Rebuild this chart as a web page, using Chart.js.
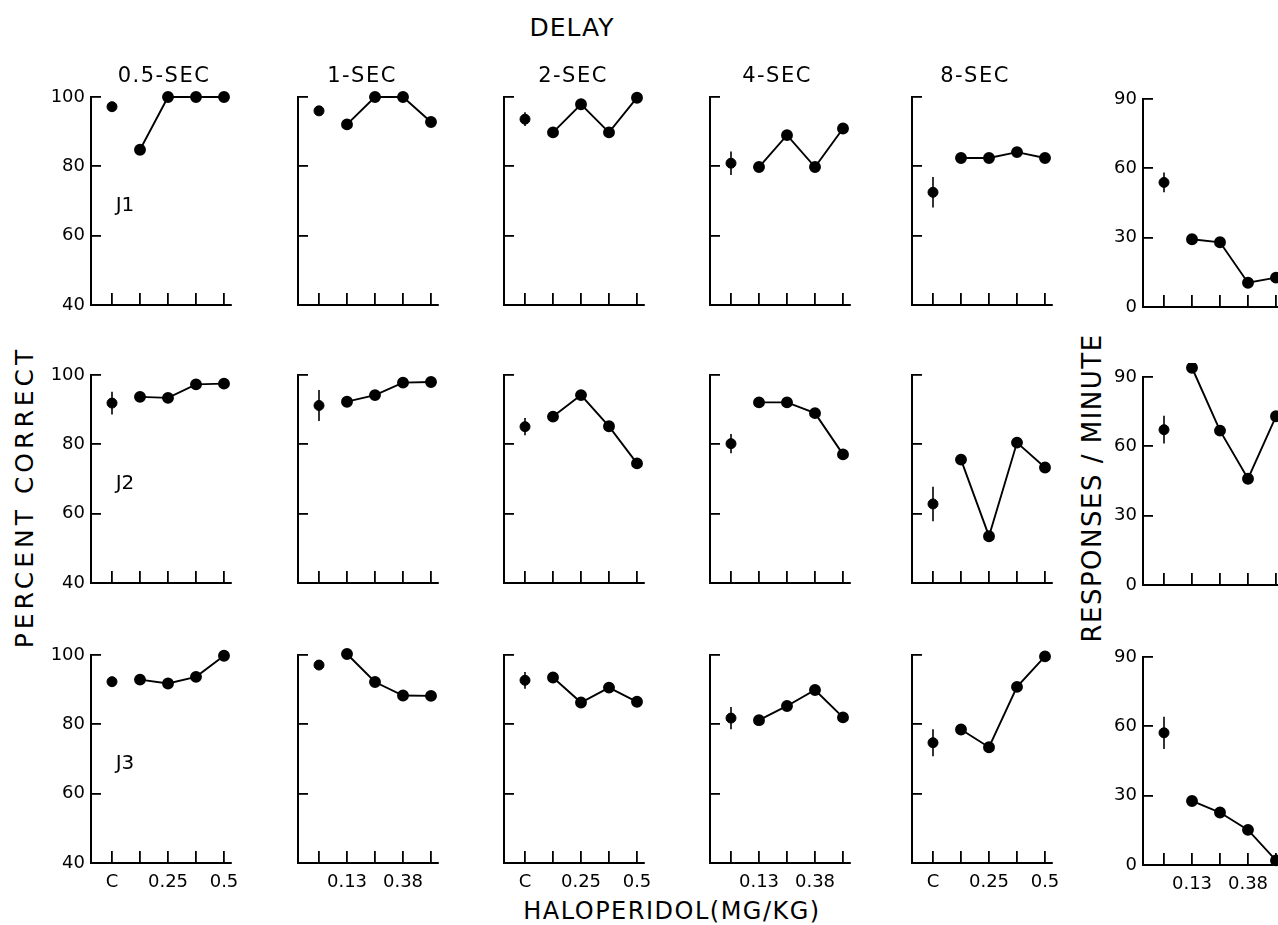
<!DOCTYPE html>
<html>
<head>
    <title>Haloperidol delay chart</title>
    <script src="https://cdn.jsdelivr.net/npm/chart.js"></script>
    <style>
        body { margin: 0; width: 1278px; height: 925px; overflow: hidden; background: #fff; position: relative;
               font-family: "DejaVu Sans", sans-serif; color: #000; }
        canvas { position: absolute; }
        .txt { position: absolute; white-space: nowrap; transform: translate(-50%, -50%); }
        .vert { position: absolute; white-space: nowrap; transform: translate(-50%, -50%) rotate(-90deg); }
    </style>
</head>
<body>
    <div class="txt" style="left:572px; top:27px; font-size:25px; letter-spacing:1px;">DELAY</div>
    <div class="txt" style="left:672px; top:911px; font-size:24px; letter-spacing:1.5px;">HALOPERIDOL(MG/KG)</div>
    <div class="vert" style="left:24px; top:497px; font-size:25px; letter-spacing:4px;">PERCENT CORRECT</div>
    <div class="vert" style="left:1092px; top:488px; font-size:26px; letter-spacing:1.5px;">RESPONSES / MINUTE</div>

    <script>
        // doses on the x axis (control first)
        const doses = ['C', '0.13', '0.25', '0.38', '0.5'];
        const delays = ['0.5-SEC', '1-SEC', '2-SEC', '4-SEC', '8-SEC'];
        const subjects = ['J1', 'J2', 'J3'];

        // percent correct, one row per delay: [C, 0.13, 0.25, 0.38, 0.5]
        const j1Correct = [
            [97.2, 84.8, 100, 100, 100],
            [96.0, 92.1, 100, 100, 92.8],
            [93.6, 89.8, 97.9, 89.8, 99.8],
            [80.9, 79.8, 89.0, 79.8, 90.9],
            [72.5, 82.4, 82.4, 84.1, 82.4]
        ];
        const j2Correct = [
            [91.9, 93.7, 93.4, 97.3, 97.5],
            [91.2, 92.3, 94.2, 97.8, 98.0],
            [85.1, 88.0, 94.2, 85.2, 74.5],
            [80.2, 92.1, 92.1, 89.0, 77.1],
            [62.8, 75.6, 53.5, 80.5, 73.3]
        ];
        const j3Correct = [
            [92.3, 92.9, 91.8, 93.7, 99.8],
            [97.1, 100.3, 92.2, 88.3, 88.2],
            [92.7, 93.5, 86.3, 90.6, 86.5],
            [81.8, 81.2, 85.3, 89.9, 82.0],
            [74.7, 78.5, 73.4, 90.8, 99.6]
        ];
        // error bar (+/-) on the control point, per delay
        const j1CorrectErr = [0, 0, 2.0, 3.4, 4.4];
        const j2CorrectErr = [3.3, 4.5, 2.5, 2.8, 5.0];
        const j3CorrectErr = [0, 0, 2.4, 3.2, 3.9];

        // responses per minute, one row per subject
        const responseRate = [
            [53.9, 29.3, 28.0, 10.5, 12.7],
            [67.2, 94.0, 66.8, 46.0, 73.0],
            [57.2, 27.7, 22.7, 15.2, 2.0]
        ];
        const responseRateErr = [4.3, 6.0, 7.0];

        const correctTicks = [40, 60, 80, 100];
        const rateTicks = [0, 30, 60, 90];
        const doseLabelsA = ['C', '', '0.25', '', '0.5'];
        const doseLabelsB = ['', '0.13', '', '0.38', ''];

        const correctRows = [j1Correct, j2Correct, j3Correct];
        const correctErrRows = [j1CorrectErr, j2CorrectErr, j3CorrectErr];

        // layout of the grid (pixels)
        const colLeft = [91, 298, 504, 710, 912, 1143];
        const colTitleX = [164, 362, 573, 777, 975];
        const rowTop = [97, 375, 655];
        const plotW = 140, plotH = 208;
        const padL = 44, padT = 14, padR = 14, padB = 34;

        const errorBars = {
            id: 'errorBars',
            afterDatasetsDraw(chart, args, opts) {
                if (!opts.err) return;
                const pt = chart.data.datasets[0].data[0];
                const ctx = chart.ctx;
                const y = chart.scales.y;
                const x = chart.scales.x.getPixelForValue(pt.x);
                ctx.save();
                ctx.strokeStyle = '#000';
                ctx.lineWidth = 1.6;
                ctx.beginPath();
                ctx.moveTo(x, y.getPixelForValue(pt.y + opts.err));
                ctx.lineTo(x, y.getPixelForValue(pt.y - opts.err));
                ctx.stroke();
                ctx.restore();
            }
        };

        // points slightly above the top tick (e.g. 94 on a 0-90 axis) are still drawn
        const looseArea = {
            id: 'looseArea',
            beforeDatasetsDraw(chart) {
                const a = chart.chartArea;
                chart._savedArea = a;
                chart.chartArea = { left: a.left - 20, top: a.top - 20, right: a.right + 20, bottom: a.bottom + 20,
                                    width: a.width + 40, height: a.height + 40 };
            },
            afterDatasetsDraw(chart) {
                chart.chartArea = chart._savedArea;
            }
        };

        const tickFont = { family: 'DejaVu Sans', size: 18 };

        function makePanel(row, col, values, err, yTicks, showYLabels) {
            const cv = document.createElement('canvas');
            const top = rowTop[row] + (col === 5 ? 2 : 0);
            cv.width = padL + plotW + padR;
            cv.height = padT + plotH + padB;
            cv.style.left = (colLeft[col] - padL) + 'px';
            cv.style.top = (top - padT) + 'px';
            document.body.appendChild(cv);

            const xLabels = col % 2 === 0 ? doseLabelsA : doseLabelsB;
            const control = [{ x: 0, y: values[0] }];
            const dosed = values.slice(1).map((v, i) => ({ x: i + 1, y: v }));

            new Chart(cv.getContext('2d'), {
                type: 'line',
                data: {
                    datasets: [
                        { data: control, showLine: false, pointRadius: 5, pointBackgroundColor: '#000', pointBorderColor: '#000', clip: false },
                        { data: dosed, borderColor: '#000', borderWidth: 1.9, pointRadius: 5, pointBackgroundColor: '#000', pointBorderColor: '#000', clip: false }
                    ]
                },
                options: {
                    responsive: false,
                    animation: false,
                    events: [],
                    layout: { padding: { top: padT, right: padR, left: 0, bottom: 0 } },
                    plugins: { legend: { display: false }, tooltip: { enabled: false }, errorBars: { err: err } },
                    scales: {
                        x: {
                            type: 'linear', min: -0.75, max: 4.25,
                            afterBuildTicks: s => { s.ticks = doses.map((d, i) => ({ value: i })); },
                            afterFit: s => { s.height = padB; s.paddingLeft = 0; s.paddingRight = 0; },
                            ticks: {
                                display: row === 2, font: tickFont, color: '#000', padding: 21,
                                maxRotation: 0, autoSkip: false,
                                callback: v => xLabels[v]
                            },
                            grid: { drawOnChartArea: false, tickLength: -12, color: '#000', lineWidth: 1.8 },
                            border: { color: '#000', width: 2 }
                        },
                        y: {
                            min: yTicks[0], max: yTicks[yTicks.length - 1],
                            afterBuildTicks: s => { s.ticks = yTicks.map(v => ({ value: v })); },
                            afterFit: s => { s.width = padL; s.paddingTop = 0; s.paddingBottom = 0; },
                            ticks: { display: showYLabels, font: tickFont, color: '#000', padding: 16 },
                            grid: { drawOnChartArea: false, tickLength: -10, color: '#000', lineWidth: 1.8 },
                            border: { color: '#000', width: 2 }
                        }
                    }
                },
                plugins: [looseArea, errorBars]
            });
        }

        for (let r = 0; r < 3; r++) {
            for (let c = 0; c < 5; c++) {
                makePanel(r, c, correctRows[r][c], correctErrRows[r][c], correctTicks, c === 0);
            }
            makePanel(r, 5, responseRate[r], responseRateErr[r], rateTicks, true);

            const lab = document.createElement('div');
            lab.className = 'txt';
            lab.style.left = '125px';
            lab.style.top = (rowTop[r] + 107) + 'px';
            lab.style.fontSize = '20px';
            lab.textContent = subjects[r];
            document.body.appendChild(lab);
        }

        delays.forEach((d, i) => {
            const t = document.createElement('div');
            t.className = 'txt';
            t.style.left = colTitleX[i] + 'px';
            t.style.top = '75px';
            t.style.fontSize = '21px';
            t.style.letterSpacing = '1.5px';
            t.textContent = d;
            document.body.appendChild(t);
        });
    </script>
</body>
</html>
